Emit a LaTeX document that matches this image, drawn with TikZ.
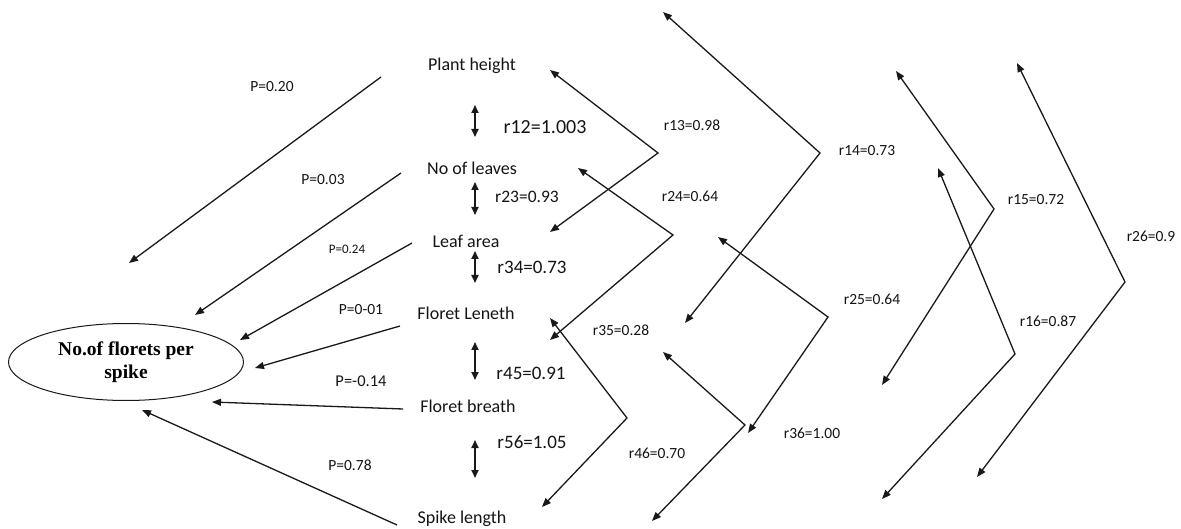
\documentclass[tikz,border=0pt]{standalone}
\usepackage{fontspec}
\setmainfont{Carlito}
\newfontfamily\serifbold{Liberation Serif}
\usetikzlibrary{arrows.meta,shapes.geometric}
\begin{document}
\begin{tikzpicture}[x=1pt,y=-1pt,
  conn/.style={draw=black!90, line width=1.3pt, -{Triangle[length=9pt,width=7pt]}},
  bent/.style={draw=black!90, line width=1.3pt, {Triangle[length=9pt,width=7pt]}-{Triangle[length=9pt,width=7pt]}},
  dbl/.style={draw=black!90, line width=1.7pt, {Triangle[length=8pt,width=7pt]}-{Triangle[length=8pt,width=7pt]}},
  var/.style={font=\fontsize{18}{20}\selectfont, text=black!92, inner sep=0pt},
  mid/.style={font=\fontsize{19}{21}\selectfont, text=black!92, inner sep=0pt},
  corr/.style={font=\fontsize{15.5}{17}\selectfont, text=black!92, inner sep=0pt},
  pval/.style={font=\fontsize{15.5}{17}\selectfont, text=black!92, inner sep=0pt},
  target/.style={draw=black!90, line width=1pt, ellipse, minimum width=235pt, minimum height=77pt,
    inner sep=0pt, align=center, font=\serifbold\bfseries\fontsize{19.5}{23}\selectfont}]
\useasboundingbox (0,0) rectangle (1181,529);

% variables
\node[var] (ph) at (472,66) {Plant height};
\node[var] (nl) at (472,168) {No of leaves};
\node[var] (la) at (466,241) {Leaf area};
\node[var] (fl) at (466,313) {Floret Leneth};
\node[var] (fb) at (468,406) {Floret breath};
\node[var] (sl) at (462,519) {Spike length};

\node[target] (y) at (126,362) {No.of florets per\\spike};

% vertical double arrows
\coordinate (a12t) at (475,105); \coordinate (a12b) at (475,137);
\coordinate (a23t) at (475,182); \coordinate (a23b) at (475,215);
\coordinate (a34t) at (475,251); \coordinate (a34b) at (475,283);
\coordinate (a45t) at (475,342); \coordinate (a45b) at (475,380);
\coordinate (a56t) at (475,440); \coordinate (a56b) at (475,478);
\draw[dbl] (a12t) -- (a12b);
\draw[dbl] (a23t) -- (a23b);
\draw[dbl] (a34t) -- (a34b);
\draw[dbl] (a45t) -- (a45b);
\draw[dbl] (a56t) -- (a56b);
\node[mid, font=\fontsize{20}{22}\selectfont] (l12) at (545,127) {r12=1.003};
\node[mid, font=\fontsize{17.5}{20}\selectfont] (l23) at (527,197) {r23=0.93};
\node[mid] (l34) at (532,267) {r34=0.73};
\node[mid] (l45) at (531,373) {r45=0.91};
\node[mid] (l56) at (532,442) {r56=1.05};

% direct effects
\coordinate (p1s) at (381,77);  \coordinate (p1e) at (129,263);
\coordinate (p2s) at (401,173); \coordinate (p2e) at (195,315);
\coordinate (p3s) at (412,243); \coordinate (p3e) at (240,340);
\coordinate (p4s) at (400,326); \coordinate (p4e) at (255,368);
\coordinate (p5s) at (403,409); \coordinate (p5e) at (212,402);
\coordinate (p6s) at (397,525); \coordinate (p6e) at (142,410);
\draw[conn] (p1s) -- (p1e);
\draw[conn] (p2s) -- (p2e);
\draw[conn] (p3s) -- (p3e);
\draw[conn] (p4s) -- (p4e);
\draw[conn] (p5s) -- (p5e);
\draw[conn] (p6s) -- (p6e);
\node[pval] (P1) at (272,87) {P=0.20};
\node[pval] (P2) at (323,180) {P=0.03};
\node[pval, font=\fontsize{13}{15}\selectfont] (P3) at (347,249) {P=0.24};
\node[pval] (P4) at (361,310) {P=0-01};
\node[pval, font=\fontsize{16.5}{18}\selectfont] (P5) at (361,381) {P=-0.14};
\node[pval] (P6) at (350,465) {P=0.78};

% correlation links
\coordinate (c13a) at (550,70);   \coordinate (c13v) at (658,153);  \coordinate (c13b) at (550,232);
\coordinate (c24a) at (578,168);  \coordinate (c24v) at (673,235);  \coordinate (c24b) at (550,340);
\coordinate (c46a) at (550,318);  \coordinate (c46v) at (627,418);  \coordinate (c46b) at (542,507);
\coordinate (c14a) at (663,12);   \coordinate (c14v) at (820,153);  \coordinate (c14b) at (685,323);
\coordinate (c35a) at (663,352);  \coordinate (c35v) at (745,425);  \coordinate (c35b) at (652,521);
\coordinate (c25a) at (718,237);  \coordinate (c25v) at (828,317);  \coordinate (c25b) at (748,433);
\coordinate (c15a) at (896,71);   \coordinate (c15v) at (994,209);  \coordinate (c15b) at (882,385);
\coordinate (c16a) at (938,168);  \coordinate (c16v) at (1015,354); \coordinate (c16b) at (882,499);
\coordinate (c26a) at (1017,63);  \coordinate (c26v) at (1125,282); \coordinate (c26b) at (977,477);
\draw[bent] (c13a) -- (c13v) -- (c13b);
\draw[bent] (c24a) -- (c24v) -- (c24b);
\draw[bent] (c46a) -- (c46v) -- (c46b);
\draw[bent] (c14a) -- (c14v) -- (c14b);
\draw[bent] (c35a) -- (c35v) -- (c35b);
\draw[bent] (c25a) -- (c25v) -- (c25b);
\draw[bent] (c15a) -- (c15v) -- (c15b);
\draw[bent] (c16a) -- (c16v) -- (c16b);
\draw[bent] (c26a) -- (c26v) -- (c26b);

\node[corr] (r13) at (692,125) {r13=0.98};
\node[corr] (r24) at (690,196) {r24=0.64};
\node[corr] (r14) at (867,151) {r14=0.73};
\node[corr] (r35) at (621,330) {r35=0.28};
\node[corr] (r46) at (657,453) {r46=0.70};
\node[corr] (r25) at (872,299) {r25=0.64};
\node[corr] (r36) at (812,433) {r36=1.00};
\node[corr] (r15) at (1036,200) {r15=0.72};
\node[corr] (r16) at (1048,321) {r16=0.87};
\node[corr] (r26) at (1151,236) {r26=0.9};
\end{tikzpicture}
\end{document}
